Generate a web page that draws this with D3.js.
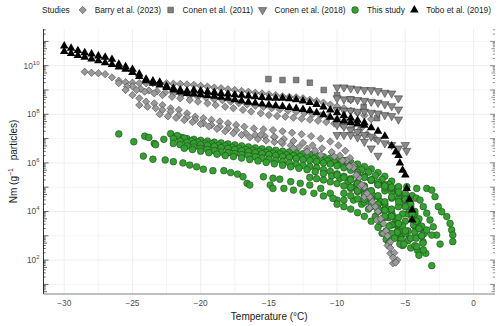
<!DOCTYPE html>
<html>
<head>
<meta charset="utf-8">
<script src="https://cdn.jsdelivr.net/npm/d3@7"></script>
<style>
  body { margin: 0; background: #fff; }
  svg { font-family: "Liberation Sans", Arial, sans-serif; }
</style>
</head>
<body>
<svg id="canvas" width="500" height="326"></svg>
<script>
'use strict';

// points are [temperature in °C, log10 of Nm], one array per run
var thisStudy = [
  [[-26,7.19],[-24.9,6.87],[-24.1,7.1],[-23.8,7.05],[-23.4,6.8],[-23.3,6.75],[-22.7,6.97],[-22.2,7.2],[-21.8,7.1],[-21.4,7.05],[-21,7.0],[-20.5,6.97],[-20,6.93],[-19.5,6.9],[-19,6.85],[-18.5,6.82],[-18,6.78],[-17.5,6.74],[-17,6.7],[-16.5,6.66],[-16,6.62],[-15.5,6.58],[-15,6.55],[-14.5,6.52],[-14,6.48],[-13.5,6.45],[-13,6.42],[-12.5,6.38],[-12,6.35],[-11.5,6.3],[-11,6.25],[-10.5,6.2],[-10,6.15],[-9.5,6.1],[-9,6.02],[-8.5,5.95],[-8,5.85],[-7.5,5.75],[-7,5.6],[-6.5,5.45],[-6,5.25],[-5.5,5.0],[-5,4.6],[-4.7,4.2],[-4.5,3.8],[-4.3,3.4]],
  [[-21.7,7.12],[-21.2,7.02],[-20.7,6.9],[-20.2,6.86],[-19.7,6.8],[-19.2,6.78],[-18.7,6.72],[-18.2,6.7],[-17.7,6.64],[-17.2,6.6],[-16.7,6.55],[-16.2,6.52],[-15.7,6.47],[-15.2,6.44],[-14.7,6.4],[-14.2,6.37],[-13.7,6.33],[-13.2,6.3],[-12.7,6.26],[-12.2,6.22],[-11.7,6.18],[-11.2,6.12],[-10.7,6.08],[-10.2,6.02],[-9.7,5.96],[-9.2,5.9],[-8.7,5.82],[-8.2,5.72],[-7.7,5.62],[-7.2,5.48],[-6.7,5.32],[-6.2,5.12],[-5.7,4.88],[-5.3,4.55],[-5.0,4.25],[-4.8,3.9]],
  [[-22,7.0],[-21.5,6.9],[-21,6.85],[-20.5,6.8],[-20,6.75],[-19.5,6.72],[-19,6.68],[-18.5,6.63],[-18,6.6],[-17.5,6.55],[-17,6.5],[-16.5,6.46],[-16,6.42],[-15.5,6.38],[-15,6.34],[-14.5,6.3],[-14,6.26],[-13.5,6.22],[-13,6.18],[-12.5,6.14],[-12,6.1],[-11.5,6.05],[-11,6.0],[-10.5,5.95],[-10,5.88],[-9.5,5.8],[-9,5.7],[-8.5,5.6],[-8,5.45],[-7.5,5.3],[-7,5.1],[-6.5,4.85],[-6,4.55],[-5.5,4.2],[-5.2,3.9],[-5,3.6],[-4.8,3.2],[-4.7,2.9]],
  [[-22,6.8],[-21.5,6.75],[-21,6.7],[-20.5,6.65],[-20,6.6],[-19.5,6.55],[-19,6.5],[-18.5,6.45],[-18,6.42],[-17.5,6.38],[-17,6.34],[-16.5,6.3],[-16,6.25],[-15.5,6.2],[-15,6.15],[-14.5,6.1],[-14,6.05],[-13.5,6.0],[-13,5.95],[-12.5,5.9],[-12,5.85],[-11.5,5.8],[-11,5.72],[-10.5,5.65],[-10,5.55],[-9.5,5.45],[-9,5.35],[-8.5,5.2],[-8,5.05],[-7.5,4.85],[-7,4.6],[-6.5,4.3],[-6,3.95],[-5.7,3.6],[-5.5,3.3],[-5.3,3.0]],
  [[-21.2,6.6],[-20.6,6.55],[-20,6.48],[-19.4,6.42],[-18.8,6.36],[-18.2,6.3],[-17.6,6.26],[-17,6.2],[-16.4,6.14],[-15.8,6.08],[-15.2,6.02],[-14.6,5.96],[-14,5.9],[-13.4,5.84],[-12.8,5.78],[-12.2,5.72],[-11.6,5.64],[-11,5.56],[-10.4,5.46],[-9.8,5.36],[-9.2,5.22],[-8.6,5.06],[-8,4.88],[-7.4,4.66],[-6.8,4.4],[-6.3,4.1],[-5.9,3.8],[-5.6,3.5],[-5.4,3.2]],
  [[-24.2,6.28],[-23.5,6.15],[-22.6,6.12],[-22,6.05],[-21.3,6.0],[-20.8,5.91],[-20.3,5.84],[-19.8,5.74],[-19.1,5.68],[-18.3,5.68],[-17.8,5.6],[-17.3,5.54],[-16.9,5.43],[-16.6,5.16],[-16.4,5.09]],
  [[-15.4,5.43],[-14.7,5.37],[-14.2,5.33],[-13.4,5.23],[-12.7,5.16],[-12,5.09],[-11.2,4.95],[-10.5,4.75],[-10,4.47],[-14.9,5.09],[-14.7,4.95]],
  [[-13.9,4.95],[-13.2,4.88],[-12.5,4.81],[-11.7,4.75],[-11,4.64],[-10.3,4.54],[-9.5,4.47],[-8.8,4.47],[-8.2,4.3],[-7.7,4.1],[-7.2,3.8],[-6.8,3.5],[-6.4,3.2],[-6.1,2.96]],
  [[-12,5.4],[-11.5,5.35],[-11,5.3],[-10.5,5.22],[-10,5.15],[-9.5,5.05],[-9,4.95],[-8.5,4.82],[-8,4.68],[-7.5,4.5],[-7,4.3],[-6.6,4.05],[-6.2,3.75],[-5.9,3.45],[-5.6,3.15],[-5.4,2.85],[-5.2,2.6]],
  [[-10,5.5],[-9.5,5.4],[-9,5.3],[-8.5,5.15],[-8,5.0],[-7.5,4.85],[-7,4.65],[-6.5,4.4],[-6,4.1],[-5.5,3.75],[-5.2,3.4],[-5,3.1],[-4.8,2.8],[-4.6,2.5]],
  [[-9.5,4.75],[-9,4.65],[-8.5,4.52],[-8,4.38],[-7.5,4.2],[-7,4.0],[-6.5,3.75],[-6,3.45],[-5.6,3.15],[-5.3,2.85]],
  [[-9,5.0],[-8.5,4.85],[-8,4.7],[-7.5,4.5],[-7,4.3],[-6.5,4.05],[-6,3.8],[-5.5,3.5],[-5,3.2],[-4.6,2.9],[-4.3,2.6],[-4.1,2.4],[-4.0,2.2]],
  [[-10,4.3],[-9.5,4.2],[-9,4.1],[-8.5,3.95],[-8,3.8],[-7.5,3.6],[-7,3.35],[-6.7,3.1],[-6.4,2.85],[-6.2,2.7]],
  [[-8.5,5.5],[-8,5.4],[-7.5,5.28],[-7,5.15],[-6.5,4.98],[-6,4.8],[-5.5,4.55],[-5,4.3],[-4.7,4.05],[-4.5,3.75],[-4.4,3.45],[-4.3,3.15],[-4.2,2.9]],
  [[-7.5,5.3],[-7,5.2],[-6.5,5.1],[-6,4.95],[-5.5,4.75],[-5,4.5],[-4.6,4.2],[-4.3,3.9],[-4.1,3.6],[-3.9,3.3],[-3.8,3.0],[-3.7,2.75]],
  [[-7,5.1],[-6.5,5.05],[-6,5.0],[-5.5,5.02],[-4.89,5.02],[-4.16,4.95],[-3.43,4.95],[-3.06,4.88],[-2.82,4.61],[-2.58,4.2],[-2.33,3.99],[-1.96,3.79],[-1.72,3.51],[-1.6,3.24],[-1.52,3.03],[-1.52,2.76]],
  [[-5.5,4.8],[-5,4.75],[-4.5,4.65],[-4.2,4.55],[-3.92,4.47],[-3.68,4.2],[-3.43,3.93],[-3.19,3.65],[-2.95,3.37],[-2.7,3.03],[-2.45,2.66]],
  [[-5,4.5],[-4.6,4.3],[-4.3,4.0],[-4,3.7],[-3.8,3.4],[-3.6,3.1],[-3.43,3.24],[-3.06,3.03],[-3.5,2.28],[-3.68,2.42],[-3.06,1.77]],
  [[-6,4.6],[-5.5,4.4],[-5,4.2],[-4.5,3.9],[-4.2,3.6],[-4,3.3],[-3.8,3.0],[-3.7,2.7],[-4.16,2.55]],
  [[-8,4.5],[-7.5,4.3],[-7,4.1],[-6.5,3.8],[-6.2,3.4],[-6,3.1],[-5.8,2.9],[-5.4,2.66],[-5.1,2.66]]
];

var barry2023 = [
  [[-28.5,9.75],[-28,9.71],[-27.5,9.69],[-27,9.65],[-26.5,9.52],[-26,9.38],[-25.5,9.32],[-25,9.3],[-24.5,9.28],[-24,9.28],[-23.5,9.28],[-23,9.28],[-22.5,9.28],[-22,9.26],[-21.5,9.25],[-21,9.23],[-20.5,9.21],[-20,9.17],[-19.5,9.14],[-19,9.1],[-18.5,9.07],[-18,9.03],[-17.5,9.0],[-17,8.96],[-16.5,8.93],[-16,8.89],[-15.5,8.86],[-15,8.82],[-14.5,8.79],[-14,8.74],[-13.5,8.72],[-13,8.7],[-12.5,8.66],[-12,8.6],[-11.5,8.55],[-11,8.48],[-10.5,8.4],[-10,8.32],[-9.5,8.25],[-9,8.15],[-8.5,8.05],[-8,7.95],[-7.5,7.8]],
  [[-25,9.15],[-24.4,9.05],[-23.8,8.98],[-23.2,8.95],[-22.6,8.9],[-22,8.85],[-21.4,8.8],[-20.8,8.76],[-20.2,8.72],[-19.6,8.68],[-19,8.62],[-18.4,8.58],[-17.8,8.52],[-17.2,8.46],[-16.6,8.4],[-16,8.35],[-15.4,8.3],[-14.8,8.25],[-14.2,8.2],[-13.6,8.15],[-13,8.1],[-12.4,8.05],[-11.8,8.0],[-11.2,7.95],[-10.6,7.88],[-10,7.8],[-9.4,7.72],[-8.8,7.6],[-8.2,7.45]],
  [[-26,9.28],[-25.4,9.14],[-24.7,9.0],[-24.1,8.93],[-23.4,8.86],[-22.8,8.79],[-22.1,8.72],[-21.5,8.66],[-20.8,8.59],[-20.2,8.52],[-19.5,8.45],[-18.9,8.38],[-18.2,8.31],[-17.6,8.25],[-16.9,8.18],[-16.3,8.11],[-15.6,8.04],[-15,7.97],[-14.4,7.93],[-13.8,7.9],[-13.2,7.86],[-12.6,7.82],[-12,7.78],[-11.4,7.73],[-10.8,7.68],[-10.2,7.62],[-9.6,7.55],[-9,7.45],[-8.4,7.32],[-7.8,7.18],[-7.2,7.0]],
  [[-25.5,9.0],[-25,8.79],[-24.5,8.66],[-24,8.52],[-23.4,8.45],[-22.8,8.38],[-22.2,8.25],[-21.6,8.18],[-21,8.04],[-20.4,7.9],[-19.8,7.84],[-19.2,7.77],[-18.6,7.7],[-18,7.63],[-17.4,7.56],[-16.8,7.49],[-16.1,7.42],[-15.4,7.38],[-14.7,7.35],[-14,7.3],[-13.3,7.24],[-12.6,7.18],[-11.9,7.1],[-11.2,7.0],[-10.5,6.88],[-9.9,6.72],[-9.4,6.5],[-9.05,6.2],[-8.8,5.9],[-8.56,5.5],[-8.3,5.05],[-8.0,4.6],[-7.6,4.15],[-7.1,3.65],[-6.6,3.1],[-6.3,2.6],[-6.1,2.28],[-5.9,1.87]],
  [[-24.5,8.38],[-23.9,8.31],[-23.3,8.25],[-22.8,8.18],[-22.2,8.11],[-21.6,7.97],[-21,7.88],[-20.4,7.77],[-19.8,7.63],[-19.2,7.56],[-18.6,7.49],[-18,7.42],[-17.4,7.35],[-16.7,7.22],[-16,7.15],[-15.3,7.1],[-14.6,7.05],[-13.9,6.98],[-13.2,6.9],[-12.5,6.82],[-11.8,6.72],[-11.1,6.6],[-10.4,6.45],[-9.8,6.3],[-9.3,6.1],[-8.8,5.8],[-8.4,5.4],[-8,5.0],[-7.6,4.6],[-7.2,4.2],[-6.8,3.7],[-6.4,3.2],[-6.1,2.75],[-5.8,2.3],[-5.6,2.0]],
  [[-23,8.0],[-22.4,7.92],[-21.8,7.85],[-21.2,7.76],[-20.6,7.68],[-20,7.6],[-19.4,7.5],[-18.8,7.4],[-18.2,7.3],[-17.6,7.22],[-17,7.15],[-16.4,7.05],[-15.8,6.98],[-15.2,6.92],[-14.6,6.86],[-14,6.8],[-13.4,6.72],[-12.8,6.65],[-12.2,6.58],[-11.6,6.5]],
  [[-15.6,7.15],[-14.6,7.08],[-14.1,6.87],[-13.2,6.6],[-12.2,6.46],[-11.2,6.33],[-10.2,6.26],[-9.6,6.1],[-9.1,5.85],[-8.6,5.5],[-8.2,5.1],[-7.8,4.75],[-7.4,4.4],[-7,4.0],[-6.6,3.5],[-6.3,3.0],[-6.1,2.5],[-5.9,2.1],[-5.7,1.9]]
];

var conen2011 = [
  [[-15.03,9.45],[-14.0,9.41],[-13.0,9.41],[-12.0,9.3],[-10.98,9.0],[-10.0,8.79],[-9.02,8.62],[-8.05,8.31],[-7.07,7.84]]
];

var conen2018 = [
  [[-10,9.11],[-9.5,9.11],[-9,9.07],[-8.5,9.03],[-8,9.0],[-7.5,9.0],[-7,8.96],[-6.5,8.89],[-6,8.86],[-5.5,8.66]],
  [[-10,8.66],[-9.5,8.62],[-9,8.62],[-8.5,8.59],[-8,8.56],[-7.5,8.52],[-7,8.48],[-6.5,8.42],[-6,8.34],[-5.5,8.2]],
  [[-10,8.18],[-9.5,8.15],[-9,8.15],[-8.5,8.11],[-8,8.11],[-7.5,8.07],[-7,8.04],[-6.5,7.97],[-6,7.93],[-5.5,7.79]],
  [[-10,7.56],[-9.5,7.49],[-9,7.35],[-8.5,7.28],[-8,7.15],[-7.5,7.08],[-7,6.94],[-6.5,6.81],[-6,6.74],[-5.5,6.6],[-5,6.74],[-4.9,6.5]],
  [[-10,7.15],[-9.5,7.15],[-9,7.15],[-8.5,7.05],[-8,6.87],[-7.5,6.6],[-7,6.3]]
];

var tobo2019 = [
  [[-30,10.81],[-29.5,10.72],[-29,10.62],[-28.5,10.53],[-28,10.48],[-27.5,10.4],[-27,10.35],[-26.5,10.26],[-26,10.06],[-25.5,9.96],[-25,9.85],[-24.5,9.66],[-24,9.44],[-23.5,9.37],[-23,9.32],[-22.5,9.16],[-22,9.07],[-21.5,9.0],[-21,8.96],[-20.5,8.99],[-20,8.96],[-19.5,8.93],[-19,8.9],[-18.5,8.86],[-18,8.83],[-17.5,8.8],[-17,8.78],[-16.5,8.75],[-16,8.72],[-15.5,8.69],[-15,8.67],[-14.5,8.66],[-14,8.66],[-13.5,8.64],[-13,8.6],[-12.5,8.55],[-12,8.48],[-11.5,8.4],[-11,8.3],[-10.5,8.18],[-10,8.06],[-9.5,7.95],[-9,7.85],[-8.5,7.75],[-8,7.65]],
  [[-30,10.58],[-29.5,10.5],[-29,10.42],[-28.5,10.35],[-28,10.27],[-27.5,10.2],[-27,10.12],[-26.5,10.05],[-26,9.95],[-25.5,9.85],[-25,9.72],[-24.5,9.55],[-24,9.38],[-23.5,9.28],[-23,9.2],[-22.5,9.1],[-22,9.0],[-21.5,8.92],[-21,8.86],[-20.5,8.83],[-20,8.8],[-19.5,8.77],[-19,8.74],[-18.5,8.7],[-18,8.66],[-17.5,8.6],[-17,8.55],[-16.5,8.5],[-16,8.46],[-15.5,8.42],[-15,8.38],[-14.5,8.35],[-14,8.32],[-13.5,8.28],[-13,8.24],[-12.5,8.2],[-12,8.15],[-11.5,8.07],[-11,7.98],[-10.5,7.88],[-10,7.78],[-9.5,7.72],[-9,7.66],[-8.5,7.6],[-8,7.55],[-7.5,7.45],[-7,7.3],[-6.5,7.1],[-6,6.7],[-5.7,6.45],[-5.5,6.3],[-5.4,6.0],[-5.2,5.7],[-5,5.5],[-4.9,4.95],[-4.7,4.5],[-4.5,4.06],[-4.5,3.65]]
];

var studyNames = ['Barry et al. (2023)', 'Conen et al. (2011)', 'Conen et al. (2018)', 'This study', 'Tobo et al. (2019)'];
var xTicks = [-30, -25, -20, -15, -10, -5, 0];
var yTickExponents = [2, 4, 6, 8, 10];

// panel box inside the 500x326 canvas
var panel = {left: 43.5, right: 495, top: 29, bottom: 294};

var x = d3.scaleLinear().domain([-31.52, 1.575]).range([panel.left, panel.right]);
var y = d3.scaleLog().domain([Math.pow(10, 0.605), Math.pow(10, 11.51)]).range([panel.bottom, panel.top]);

/* marker look per study */
var styles = {
  'Barry et al. (2023)': {shape: d3.symbolSquare, size: 27, rotate: 45, fill: '#9a9a9a', stroke: '#3a3a3a'},
  'Conen et al. (2011)': {shape: d3.symbolSquare, size: 32, rotate: 0, fill: '#808080', stroke: '#3a3a3a'},
  'Conen et al. (2018)': {shape: d3.symbolTriangle, size: 30, rotate: 180, fill: '#8a8a8a', stroke: '#2a2a2a'},
  'This study': {shape: d3.symbolCircle, size: 36, rotate: 0, fill: '#34a02f', stroke: '#1c3a1c'},
  'Tobo et al. (2019)': {shape: d3.symbolTriangle, size: 32, rotate: 0, fill: '#000000', stroke: 'none'}
};
var runsByStudy = {
  'Barry et al. (2023)': barry2023,
  'Conen et al. (2011)': conen2011,
  'Conen et al. (2018)': conen2018,
  'This study': thisStudy,
  'Tobo et al. (2019)': tobo2019
};
/* drawing order: green first, the others on top */
var drawOrder = ['This study', 'Barry et al. (2023)', 'Conen et al. (2011)', 'Conen et al. (2018)', 'Tobo et al. (2019)'];

var svg = d3.select('svg#canvas');
var grid = svg.append('g').attr('id', 'grid');

/* vertical grid every 2.5 degrees */
grid.selectAll('line.vx')
  .data(d3.range(-30, 1.6, 2.5))
  .enter().append('line')
    .attr('x1', d => x(d)).attr('x2', d => x(d))
    .attr('y1', panel.top).attr('y2', panel.bottom)
    .attr('stroke', '#ebebeb')
    .attr('stroke-width', d => (d % 5 === 0) ? 0.8 : 0.5);

/* horizontal grid at every decade */
grid.selectAll('line.hy')
  .data(d3.range(1, 12))
  .enter().append('line')
    .attr('x1', panel.left).attr('x2', panel.right)
    .attr('y1', d => y(Math.pow(10, d))).attr('y2', d => y(Math.pow(10, d)))
    .attr('stroke', '#ebebeb')
    .attr('stroke-width', d => (d % 2 === 0) ? 0.8 : 0.5);

/* points */
var marks = svg.append('g').attr('id', 'points');
drawOrder.forEach(function(name){
  var st = styles[name];
  var pts = runsByStudy[name].flat();
  marks.append('g')
    .selectAll('path')
    .data(pts)
    .enter().append('path')
      .attr('d', d3.symbol().type(st.shape).size(st.size))
      .attr('transform', d => 'translate(' + x(d[0]) + ',' + y(Math.pow(10, d[1])) + ') rotate(' + st.rotate + ')')
      .attr('fill', st.fill)
      .attr('stroke', st.stroke)
      .attr('stroke-width', 0.5);
});

/* log ticks on the left and the right side, inside the panel */
var logTicks = [];
d3.range(0, 12).forEach(function(dec){
  for (var k = 1; k <= 9; k++) {
    var v = k * Math.pow(10, dec);
    if (v >= y.domain()[0] && v <= y.domain()[1]) logTicks.push({v: v, k: k});
  }
});
var tickLen = d => d.k === 1 ? 5 : (d.k === 5 ? 3.5 : 2.2);
var ticks = svg.append('g').attr('id', 'logticks');
ticks.selectAll('line.l')
  .data(logTicks)
  .enter().append('line')
    .attr('x1', panel.left).attr('x2', d => panel.left + tickLen(d))
    .attr('y1', d => y(d.v)).attr('y2', d => y(d.v))
    .attr('stroke', '#000').attr('stroke-width', 0.6);
ticks.selectAll('line.r')
  .data(logTicks)
  .enter().append('line')
    .attr('x1', panel.right).attr('x2', d => panel.right - tickLen(d))
    .attr('y1', d => y(d.v)).attr('y2', d => y(d.v))
    .attr('stroke', '#444').attr('stroke-width', 0.6);

/* axis lines */
svg.append('line')
  .attr('x1', panel.left).attr('x2', panel.left)
  .attr('y1', panel.top).attr('y2', panel.bottom)
  .attr('stroke', '#000').attr('stroke-width', 0.8);
svg.append('line')
  .attr('x1', panel.left).attr('x2', panel.right)
  .attr('y1', panel.bottom).attr('y2', panel.bottom)
  .attr('stroke', '#7f7f7f').attr('stroke-width', 1);

/* x tick labels */
svg.append('g').selectAll('text')
  .data(xTicks)
  .enter().append('text')
    .attr('x', d => x(d)).attr('y', panel.bottom + 12)
    .attr('text-anchor', 'middle')
    .attr('font-size', 8.3)
    .attr('fill', '#4d4d4d')
    .text(d => d < 0 ? '\u2212' + Math.abs(d) : d);

/* y tick labels: 10 with superscript exponent */
var yl = svg.append('g').selectAll('text')
  .data(yTickExponents)
  .enter().append('text')
    .attr('x', panel.left - 4).attr('y', d => y(Math.pow(10, d)) + 3)
    .attr('text-anchor', 'end')
    .attr('fill', '#4d4d4d')
    .attr('font-size', 8.3);
yl.append('tspan').text('10');
yl.append('tspan').attr('dy', -4).attr('font-size', 6).text(d => d);

/* axis titles */
svg.append('text')
  .attr('x', (panel.left + panel.right) / 2).attr('y', 320)
  .attr('text-anchor', 'middle')
  .attr('font-size', 10)
  .attr('fill', '#1a1a1a')
  .text('Temperature (\u00b0C)');

var yt = svg.append('text')
  .attr('transform', 'translate(17,' + ((panel.top + panel.bottom) / 2) + ') rotate(-90)')
  .attr('text-anchor', 'middle')
  .attr('font-size', 10)
  .attr('fill', '#1a1a1a');
yt.append('tspan').text('Nm (g');
yt.append('tspan').attr('dy', -4).attr('font-size', 7).text('\u22121');
yt.append('tspan').attr('dy', 4).text('\u2002 particles)');

/* legend across the top */
var legend = svg.append('g').attr('id', 'legend');
var title = legend.append('text')
  .attr('x', 42).attr('y', 13)
  .attr('font-size', 8.3).attr('fill', '#1a1a1a')
  .text('Studies');
var cursor = 42 + title.node().getComputedTextLength() + 13;
studyNames.forEach(function(name){
  var st = styles[name];
  legend.append('path')
    .attr('d', d3.symbol().type(st.shape).size(st.size)())
    .attr('transform', 'translate(' + cursor + ',10) rotate(' + st.rotate + ')')
    .attr('fill', st.fill)
    .attr('stroke', st.stroke)
    .attr('stroke-width', 0.5);
  var t = legend.append('text')
    .attr('x', cursor + 12).attr('y', 13)
    .attr('font-size', 8.3).attr('fill', '#1a1a1a')
    .text(name);
  cursor += 12 + t.node().getComputedTextLength() + 9.5;
});
</script>
</body>
</html>
